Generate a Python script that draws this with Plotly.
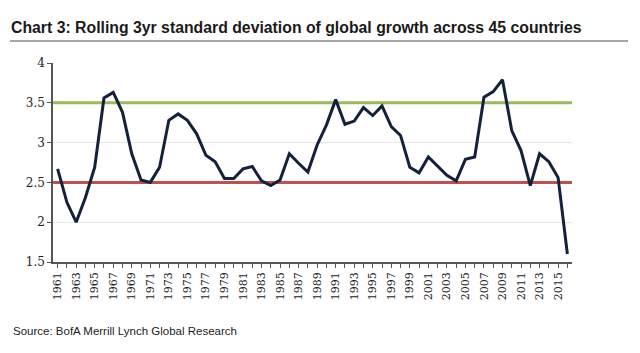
import plotly.graph_objects as go

years = list(range(1961, 2017))
std_dev = [2.67, 2.25, 2.00, 2.31, 2.69, 3.56, 3.63, 3.38, 2.86, 2.53,
           2.50, 2.69, 3.28, 3.36, 3.28, 3.11, 2.84, 2.76, 2.55, 2.55,
           2.67, 2.70, 2.52, 2.46, 2.53, 2.86, 2.74, 2.63, 2.97, 3.22,
           3.54, 3.23, 3.27, 3.44, 3.34, 3.46, 3.20, 3.09, 2.69, 2.62,
           2.82, 2.71, 2.59, 2.52, 2.79, 2.82, 3.57, 3.64, 3.79, 3.15,
           2.90, 2.46, 2.86, 2.76, 2.56, 1.60]
upper_level = 3.5
lower_level = 2.5
y_ticks = [1.5, 2, 2.5, 3, 3.5, 4]
y_ticktext = ["1.5", "2", "2.5", "3", "3.5", "4"]
x_ticktext = [str(y) if y % 2 == 1 else "" for y in years]

title_text = "Chart 3: Rolling 3yr standard deviation of global growth across 45 countries"
source_text = "Source: BofA Merrill Lynch Global Research"

L, R, T, B = 53, 68, 63, 91
W, H = 640, 353
pw, ph = W - L - R, H - T - B

def px(x):
    return (x - L) / pw

def py(y):
    return (H - B - y) / ph

x_lo, x_hi = years[0] - 0.5, years[-1] + 0.5
serif = "DejaVu Serif"

fig = go.Figure()

fig.add_trace(go.Scatter(x=[x_lo, x_hi], y=[upper_level, upper_level], mode="lines",
                         line=dict(color="#9BBB59", width=3), showlegend=False, hoverinfo="skip"))
fig.add_trace(go.Scatter(x=[x_lo, x_hi], y=[lower_level, lower_level], mode="lines",
                         line=dict(color="#C0504D", width=3), showlegend=False, hoverinfo="skip"))
fig.add_trace(go.Scatter(x=years, y=std_dev, mode="lines",
                         line=dict(color="#14213D", width=3), showlegend=False))

# title underline
fig.add_shape(type="line", xref="paper", yref="paper", x0=px(10), x1=px(628), y0=py(41), y1=py(41),
              line=dict(color="#A6A6A6", width=2))

fig.add_annotation(text="<b>" + title_text + "</b>", xref="paper", yref="paper",
                   x=px(9), y=py(27), xanchor="left", yanchor="middle", showarrow=False,
                   font=dict(family="Liberation Sans", size=15.8, color="#1a1a1a"))
fig.add_annotation(text=source_text, xref="paper", yref="paper",
                   x=px(11), y=py(331), xanchor="left", yanchor="middle", showarrow=False,
                   font=dict(family="Liberation Sans", size=11.5, color="#222222"))

fig.update_layout(
    width=W, height=H,
    margin=dict(l=L, r=R, t=T, b=B),
    paper_bgcolor="white", plot_bgcolor="white",
    xaxis=dict(range=[x_lo, x_hi], tickmode="array", tickvals=years, ticktext=x_ticktext,
               tickangle=-90, ticks="outside", ticklen=4, tickcolor="#555555",
               showline=True, linecolor="#555555", linewidth=1.5, showgrid=False, zeroline=False,
               tickfont=dict(family=serif, size=11, color="#222222")),
    yaxis=dict(range=[1.5, 4], tickmode="array", tickvals=y_ticks, ticktext=y_ticktext,
               ticks="outside", ticklen=4, tickcolor="#555555",
               showline=True, linecolor="#555555", linewidth=1.5,
               showgrid=True, gridcolor="#E6E6E6", gridwidth=1, zeroline=False,
               tickfont=dict(family=serif, size=12, color="#222222")),
)

fig.write_html("out.html")
